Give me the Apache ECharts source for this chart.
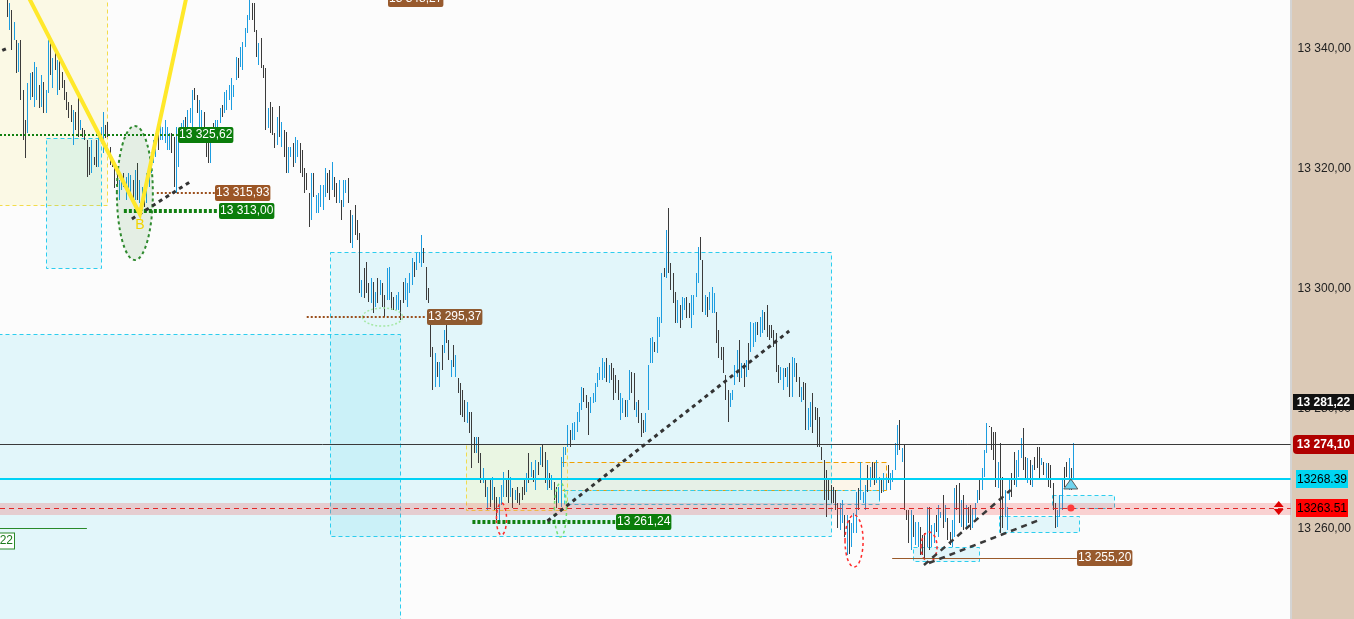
<!DOCTYPE html>
<html><head><meta charset="utf-8">
<script src="https://cdn.jsdelivr.net/npm/echarts@6/dist/echarts.min.js"></script>
<style>html,body{margin:0;padding:0;background:#dbc9b6;}#c{width:1354px;height:619px;}</style>
</head><body><div id="c"></div>
<script>
// ---- bar data (high / low / up=1 down=0), one bar per period ----
const barHigh = [
13348.2,13347.7,13346.5,13344.5,13341.5,13341.0,13341.5,13333.2,13328.2,13334.4,
13336.0,13336.2,13337.9,13337.0,13334.0,13335.7,13334.5,13333.2,13341.5,13341.2,
13338.5,13339.9,13338.2,13338.2,13336.2,13334.9,13332.9,13331.2,13330.7,13329.9,
13329.5,13332.9,13328.2,13326.9,13326.5,13324.9,13323.7,13324.9,13322.0,13324.9,
13325.4,13327.0,13329.5,13327.4,13327.9,13323.7,13322.0,13321.0,13319.9,13318.2,
13318.7,13319.4,13318.7,13319.4,13319.0,13318.2,13319.9,13321.0,13318.2,13317.0,
13317.0,13319.4,13321.0,13322.7,13324.9,13326.0,13327.0,13328.5,13327.0,13328.2,
13327.0,13326.0,13326.0,13325.4,13327.0,13326.5,13327.7,13328.2,13328.7,13329.9,
13330.2,13333.2,13333.5,13332.4,13331.5,13329.9,13329.5,13326.9,13324.9,13324.9,
13327.7,13328.2,13328.2,13330.2,13330.7,13332.9,13333.2,13334.0,13335.2,13334.0,
13338.7,13338.5,13340.4,13341.2,13343.5,13345.7,13348.3,13347.7,13347.7,13343.2,
13341.0,13341.9,13337.4,13336.9,13330.2,13331.2,13330.4,13326.0,13328.7,13330.5,
13327.9,13326.5,13326.2,13323.7,13323.7,13324.4,13325.4,13324.9,13324.4,13323.2,
13320.2,13319.4,13316.0,13319.4,13319.4,13315.7,13316.0,13317.4,13317.4,13320.2,
13319.4,13319.9,13321.2,13318.7,13317.7,13318.2,13314.9,13318.2,13318.2,13318.5,
13313.2,13312.4,13314.0,13311.5,13309.4,13301.5,13303.5,13304.5,13301.0,13301.9,
13301.2,13299.5,13301.9,13301.5,13301.0,13299.0,13303.5,13303.7,13299.5,13298.7,
13299.0,13299.5,13298.2,13301.2,13301.9,13301.0,13302.7,13305.2,13304.5,13306.0,
13306.2,13309.0,13306.9,13303.7,13300.2,13295.4,13290.4,13289.4,13287.9,13287.9,
13290.7,13293.2,13294.4,13291.5,13288.2,13290.7,13289.0,13285.2,13284.4,13283.2,
13281.5,13281.2,13279.5,13279.5,13275.4,13275.4,13275.4,13272.7,13270.2,13268.2,
13267.0,13268.2,13268.7,13267.0,13265.4,13265.4,13267.4,13269.5,13268.2,13269.9,
13268.7,13266.9,13266.5,13267.0,13266.0,13267.0,13268.2,13269.4,13272.7,13271.2,
13269.9,13271.5,13271.2,13273.7,13274.0,13272.9,13271.5,13269.4,13269.0,13267.9,
13267.0,13267.0,13272.0,13273.7,13273.7,13277.4,13276.5,13277.7,13277.9,13279.5,
13281.0,13283.7,13283.5,13282.4,13281.2,13282.0,13282.7,13284.4,13286.0,13287.0,
13288.5,13287.9,13288.5,13287.4,13287.7,13286.9,13285.7,13284.9,13282.7,13281.9,
13281.5,13281.5,13286.5,13286.2,13286.0,13281.2,13281.5,13279.4,13278.2,13279.4,
13287.4,13291.9,13292.0,13291.2,13295.4,13295.4,13302.7,13303.5,13309.9,13313.5,
13304.4,13302.7,13299.5,13298.2,13297.4,13298.7,13298.5,13298.7,13297.7,13299.0,
13299.0,13302.7,13307.0,13308.7,13304.9,13299.0,13298.7,13299.5,13300.4,13299.4,
13296.2,13293.2,13290.4,13290.4,13285.7,13283.2,13282.7,13283.2,13287.4,13289.9,
13291.5,13287.7,13287.7,13288.2,13291.0,13294.5,13294.4,13294.5,13294.5,13295.4,
13296.5,13296.2,13297.4,13294.0,13294.0,13293.2,13292.7,13287.4,13287.0,13286.9,
13286.9,13287.0,13287.7,13288.7,13288.5,13287.7,13285.4,13283.7,13284.5,13284.4,
13280.2,13281.2,13282.7,13280.4,13280.2,13278.7,13273.7,13271.5,13269.9,13268.2,
13267.4,13267.0,13266.5,13264.4,13264.4,13264.9,13262.4,13262.4,13261.5,13261.0,
13262.7,13266.2,13266.9,13271.2,13266.2,13267.4,13270.7,13270.4,13271.2,13271.0,
13271.5,13268.7,13268.5,13269.4,13268.7,13270.7,13269.4,13269.9,13274.4,13277.4,
13278.2,13273.5,13274.0,13263.2,13263.2,13263.2,13262.4,13261.2,13261.2,13260.4,
13259.0,13259.4,13263.7,13263.7,13260.7,13261.0,13262.4,13264.0,13262.9,13265.7,
13264.0,13261.9,13259.5,13261.5,13266.9,13267.4,13267.7,13264.9,13265.7,13264.0,
13263.7,13264.0,13263.5,13264.4,13266.5,13268.2,13270.2,13273.2,13277.7,13277.2,
13277.0,13276.2,13276.2,13271.2,13274.4,13268.7,13266.5,13263.7,13268.2,13269.4,
13272.9,13271.5,13273.2,13275.2,13276.9,13272.0,13271.9,13271.5,13270.7,13272.0,
13273.7,13273.7,13271.9,13271.2,13271.0,13271.0,13270.7,13267.7,13264.4,13263.2,
13265.7,13268.2,13270.4,13271.2,13271.9,13270.2,13274.4
];
const barLow = [
13345.4,13343.2,13339.9,13341.5,13336.0,13336.2,13331.5,13324.9,13321.9,13326.0,
13331.5,13332.0,13330.4,13331.5,13330.2,13330.4,13329.4,13329.4,13332.7,13335.7,
13333.5,13336.5,13332.4,13333.2,13333.5,13331.5,13329.9,13328.5,13327.9,13324.0,
13326.5,13325.4,13326.5,13325.4,13324.9,13318.7,13319.0,13319.4,13320.7,13320.4,
13320.4,13324.4,13322.7,13325.2,13325.4,13320.7,13320.4,13316.9,13317.0,13314.9,
13316.5,13317.0,13314.9,13316.0,13315.4,13314.4,13314.9,13314.9,13314.4,13313.0,
13313.7,13314.4,13317.0,13319.4,13321.0,13322.0,13323.2,13324.9,13324.9,13324.4,
13323.2,13323.2,13322.7,13317.0,13316.0,13320.4,13324.9,13325.7,13326.0,13327.0,
13327.7,13327.0,13331.5,13329.4,13327.0,13326.5,13326.0,13322.0,13321.0,13321.0,
13324.9,13326.0,13327.0,13327.7,13328.7,13329.4,13329.9,13331.5,13329.9,13332.0,
13334.9,13335.2,13337.0,13336.5,13340.4,13342.7,13344.9,13344.9,13342.9,13338.7,
13337.4,13336.9,13335.2,13326.5,13326.9,13326.0,13325.7,13323.5,13324.0,13325.4,
13323.7,13322.0,13319.4,13319.4,13322.0,13320.4,13321.0,13322.0,13319.4,13318.7,
13316.0,13316.5,13310.4,13311.5,13315.4,13312.7,13312.7,13313.7,13313.2,13315.4,
13316.0,13314.9,13316.5,13315.4,13314.4,13314.4,13311.5,13313.7,13316.0,13314.4,
13307.7,13306.9,13309.0,13308.2,13299.4,13298.7,13298.5,13299.4,13297.9,13297.7,
13296.0,13297.0,13297.7,13299.0,13297.0,13295.4,13298.2,13298.2,13296.5,13296.5,
13296.5,13296.5,13294.9,13297.7,13298.2,13297.0,13299.4,13300.7,13302.0,13303.2,
13304.4,13303.7,13304.4,13298.2,13297.7,13288.7,13283.2,13283.7,13285.4,13283.7,
13286.5,13289.4,13291.0,13288.2,13285.4,13287.0,13285.4,13282.7,13279.0,13278.7,
13277.9,13277.7,13276.0,13270.2,13272.7,13272.7,13271.0,13267.7,13267.7,13265.4,
13263.2,13263.7,13264.9,13263.2,13261.5,13261.2,13264.0,13265.4,13265.4,13264.4,
13265.4,13263.5,13264.9,13264.4,13264.0,13264.9,13265.7,13266.2,13267.7,13268.7,
13267.9,13266.5,13269.0,13270.7,13270.4,13267.7,13266.5,13266.9,13266.5,13264.9,
13263.5,13264.4,13263.7,13270.4,13272.4,13273.7,13273.7,13274.9,13274.9,13276.2,
13277.9,13279.9,13281.2,13280.2,13275.7,13279.4,13281.0,13281.2,13283.7,13284.9,
13284.9,13285.2,13284.5,13284.4,13284.9,13281.5,13282.7,13281.5,13278.2,13279.4,
13278.7,13278.7,13281.5,13282.7,13279.9,13278.7,13277.7,13275.4,13276.0,13276.2,
13279.9,13287.7,13287.7,13289.5,13289.4,13292.0,13294.4,13302.0,13301.9,13302.7,
13299.9,13297.7,13294.4,13294.4,13293.5,13294.9,13296.5,13295.2,13295.2,13293.5,
13295.7,13298.7,13301.0,13304.9,13296.2,13295.7,13295.4,13296.5,13296.0,13296.0,
13291.0,13288.5,13288.2,13286.0,13281.5,13277.9,13280.4,13281.5,13284.0,13285.4,
13284.5,13285.2,13283.7,13285.4,13286.5,13289.5,13290.4,13291.2,13292.4,13292.0,
13292.7,13293.2,13292.0,13291.5,13291.9,13290.4,13286.2,13284.4,13284.9,13283.2,
13285.4,13283.7,13282.0,13282.0,13285.4,13284.5,13282.0,13281.2,13281.5,13276.5,
13276.5,13277.0,13276.0,13278.2,13273.7,13273.7,13271.5,13264.9,13262.0,13264.9,
13264.4,13264.4,13263.2,13260.2,13259.9,13261.0,13258.7,13255.6,13255.8,13257.0,
13259.4,13259.4,13263.2,13264.9,13264.4,13263.2,13266.2,13267.0,13268.2,13267.4,
13267.7,13264.9,13266.0,13266.2,13266.5,13267.7,13266.5,13267.9,13269.9,13272.4,
13273.2,13271.2,13263.2,13261.5,13257.7,13256.5,13258.7,13257.4,13257.0,13255.7,
13255.6,13255.2,13257.0,13256.5,13257.0,13257.7,13259.5,13258.7,13261.9,13260.2,
13261.2,13258.2,13257.4,13257.0,13258.7,13263.2,13261.0,13260.4,13259.9,13260.4,
13261.0,13259.9,13260.2,13261.5,13264.4,13264.9,13266.5,13268.7,13272.7,13277.0,
13273.2,13271.5,13267.0,13266.9,13259.4,13260.2,13262.0,13259.9,13264.9,13265.4,
13267.4,13267.0,13268.7,13271.9,13269.9,13268.2,13267.7,13267.4,13267.0,13269.9,
13270.2,13268.2,13270.7,13269.0,13268.2,13267.0,13266.9,13263.2,13260.2,13260.4,
13262.0,13263.2,13267.0,13268.7,13266.5,13266.5,13268.2
];
const barUp = [
0,1,0,1,0,1,0,0,0,1, 1,0,1,1,0,1,0,1,1,0, 1,0,1,0,0,0,0,0,0,1, 0,0,1,0,0,0,0,1,0,0,
1,1,1,0,0,0,0,0,0,1, 1,0,1,1,1,0,1,0,1,1, 0,1,1,1,1,1,0,1,1,1, 1,1,0,0,1,1,1,1,0,1,
1,1,0,0,1,1,0,0,0,1, 0,1,1,1,0,1,1,1,1,1, 1,0,1,1,1,1,1,0,0,0, 1,0,0,0,1,0,0,0,1,0,
1,0,0,1,1,0,1,1,0,0, 0,0,0,1,0,1,1,1,1,1, 0,0,1,0,0,1,0,1,1,0, 0,1,0,0,0,1,0,0,0,1,
0,1,0,1,0,0,1,1,0,0, 1,1,0,0,1,1,1,1,0,1, 1,1,0,0,0,0,0,1,0,1, 0,1,0,0,1,0,1,0,0,0,
0,1,0,0,0,1,0,0,1,0, 1,0,1,0,0,1,1,1,0,0, 1,0,1,0,0,0,0,1,0,1, 0,1,0,1,0,0,1,0,1,0,
0,1,1,1,1,1,0,1,1,1, 1,1,0,0,0,1,1,1,1,1, 1,1,0,1,0,0,0,0,1,1, 0,1,1,0,0,1,0,0,0,1,
1,1,1,0,1,1,1,0,1,0, 0,0,0,1,0,1,1,0,0,1, 1,1,1,0,0,1,0,1,1,1, 0,0,0,0,0,0,1,1,1,1,
0,1,0,1,0,1,1,1,0,1, 1,0,0,0,0,0,0,0,1,1, 0,1,0,1,1,0,0,1,0,0, 1,1,0,0,0,0,0,0,0,0,
0,0,0,0,1,1,0,1,0,1, 1,1,0,1,1,1,0,1,0,0, 1,1,0,1,1,0,1,1,1,1, 0,1,0,0,0,1,0,1,1,0,
0,0,1,0,1,1,0,1,1,0, 1,0,0,1,1,0,0,1,0,1, 0,0,1,1,1,0,1,1,1,0, 0,0,0,1,0,0,1,1,1,0,
0,1,1,1,0,0,1,0,1,0, 0,0,1,0,1,0,0,0,0,1, 1,1,0,0,1,0,1
];
const yTickValues = [13260, 13280, 13300, 13320, 13340];
// price levels drawn on the chart
const levelTop = 13348.27, levelZZ = 13325.62, levelB1 = 13315.93, levelLowB = 13313.00;
const levelMid = 13295.37, levelLow2 = 13261.24, levelLow3 = 13255.20;
const levelClose = 13274.10, levelCyan = 13268.39, levelRed = 13263.51, levelLastHigh = 13281.22;

const UP = '#1c9de0', DOWN = '#3b3b3b';
const FONT = '12px "Liberation Sans", Arial, sans-serif';
function fmt(v){ const s = v.toFixed(2).split('.'); return s[0].replace(/\B(?=(\d{3})+(?!\d))/g, ' ') + ',' + s[1]; }
const CY = 'rgba(0,200,235,0.10)', CYB = '#2ccdee';

function renderBg(params, api){
  const els = [];
  const P = (v,p) => api.coord([v,p]);
  const box = (v1,p1,v2,p2,fill,stroke,dash) => {
    const a = P(v1,p1), b = P(v2,p2);
    const x = Math.round(Math.min(a[0],b[0])) + 0.5, y = Math.round(Math.min(a[1],b[1])) + 0.5;
    const w = Math.round(Math.abs(b[0]-a[0])), h = Math.round(Math.abs(b[1]-a[1]));
    els.push({type:'rect', shape:{x, y, width:w, height:h}, style:{fill, stroke, lineWidth:1, lineDash:dash}});
  };
  box(-10, 13360, 43.78, 13314.0, 'rgba(250,240,150,0.22)', '#f3dc4a', [4,3]);
  box(-10, 13292.5, 171.7, 13230, CY, CYB, [4,3]);
  box(141.1, 13306.17, 359.8, 13258.83, CY, CYB, [4,3]);
  box(17.16, 13325.17, 41.17, 13303.5, CY, CYB, [4,3]);
  box(200.9, 13274.17, 245.0, 13263.17, 'rgba(240,246,212,0.6)', '#f0dc50', [4,3]);
  box(242.4, 13271.17, 384.2, 13266.5, 'rgba(255,205,130,0.15)', '#f0a000', [5,3]);
  box(243.7, 13266.5, 381.2, 13264.17, CY, CYB, [4,3]);
  box(396.0, 13257.0, 424.8, 13254.67, CY, CYB, [4,3]);
  box(433.6, 13262.17, 468.5, 13259.5, CY, CYB, [4,3]);
  box(456.7, 13265.67, 483.8, 13263.5, CY, CYB, [4,3]);
  return {type:'group', children: els};
}

function renderBars(params, api){
  const x = api.value(0);
  const a = api.coord([x, api.value(1)]), b = api.coord([x, api.value(2)]);
  const px = Math.round(a[0]) + 0.5;
  let y1 = Math.round(a[1]), y2 = Math.round(b[1]);
  if (y2 - y1 < 1) y2 = y1 + 1;
  return {type:'line', shape:{x1:px, y1, x2:px, y2}, style:{stroke: api.value(3) ? UP : DOWN, lineWidth:1}};
}

function renderFg(params, api){
  const els = [];
  const P = (v,p) => api.coord([v,p]);
  const seg = (v1,p1,v2,p2,stroke,w,dash) => { const a=P(v1,p1), b=P(v2,p2);
    els.push({type:'line', shape:{x1:a[0],y1:a[1],x2:b[0],y2:b[1]}, style:{stroke, lineWidth:w, lineDash:dash}}); };
  const hline = (v1,v2,p,stroke,w,dash) => { const a=P(v1,p), b=P(v2,p); const y = Math.round(a[1]) + (w % 2 ? 0.5 : 0);
    els.push({type:'line', shape:{x1:a[0],y1:y,x2:b[0],y2:y}, style:{stroke, lineWidth:w, lineDash:dash}}); };
  const ell = (v1,p1,v2,p2,fill,stroke,w,dash) => { const a=P(v1,p1), b=P(v2,p2);
    els.push({type:'ellipse', shape:{cx:(a[0]+b[0])/2, cy:(a[1]+b[1])/2, rx:Math.abs(b[0]-a[0])/2, ry:Math.abs(b[1]-a[1])/2}, style:{fill, stroke, lineWidth:w, lineDash:dash}}); };
  const lab = (v,p,text,bg) => { const a=P(v,p);
    els.push({type:'text', x:Math.round(a[0]), y:Math.round(a[1]), style:{text, fill:'#fff', font:FONT, align:'left', verticalAlign:'middle', backgroundColor:bg, padding:[2,1,1,1], borderRadius:2, lineHeight:13}}); };

  // red zone band
  const r1 = P(-2.92, 13264.33), r2 = P(561, 13262.33);
  els.push({type:'rect', shape:{x:r1[0], y:Math.round(r1[1]), width:r2[0]-r1[0], height:Math.round(r2[1]-r1[1])}, style:{fill:'rgba(240,60,60,0.22)'}});
  hline(-2.92, 561, levelClose, '#3a3a3a', 1);
  hline(-2.92, 561, levelCyan, '#00d2f6', 2);
  hline(-2.92, 561, levelRed, '#e02828', 1, [5,4]);

  // ellipses
  ell(48.15, 13327.17, 63.86, 13304.83, 'rgba(20,120,20,0.10)', '#2f8a2f', 2, [3,3]);
  ell(155.5, 13296.83, 173.0, 13293.83, null, '#a5e8a5', 1.5, [2,2]);
  ell(214.0, 13264.33, 218.4, 13259.0, null, '#ff2a2a', 1.5, [3,3]);
  ell(239.3, 13267.67, 244.6, 13258.67, null, '#74e074', 1.5, [3,3]);
  ell(366.3, 13262.33, 374.2, 13253.67, null, '#ff2a2a', 1.5, [3,3]);
  ell(399.5, 13259.5, 406.5, 13254.5, null, '#ff2a2a', 1.5, [3,3]);

  // level lines
  hline(-2.92, 74.8, levelZZ, '#118011', 2, [2,2]);
  hline(65.6, 90.9, levelB1, '#9a4f1c', 2, [2,2]);
  hline(51.2, 92.67, levelLowB, '#118011', 4, [3,2]);
  hline(94.85, 166.4, levelTop, '#9a4f1c', 2, [2,2]);
  hline(131.1, 183.5, levelMid, '#9a4f1c', 2, [2,2]);
  hline(203.5, 265.9, levelLow2, '#118011', 4, [3,2]);
  hline(386.9, 467.6, levelLow3, '#9a5a2a', 1);
  hline(-2.92, 35.05, 13260.17, '#2a8a2a', 1);

  // trend lines
  seg(-5.1, 13339.2, 0.57, 13340.2, '#333', 3, [4,4]);
  seg(54.7, 13311.67, 80.0, 13317.83, '#333', 3, [4,4]);
  seg(236.3, 13261.33, 341.9, 13293.0, '#333', 3, [4,4]);
  seg(400.8, 13254.0, 438.7, 13266.5, '#3a3a3a', 2.5, [6,5]);
  seg(403.0, 13254.33, 451.8, 13261.6, '#3a3a3a', 2.5, [6,5]);

  // zigzag
  const z1 = P(5.72, 13351.5), z2 = P(58.19, 13312.5), z3 = P(80.14, 13351.5);
  els.push({type:'polyline', shape:{points:[z1, z2, z3]}, style:{stroke:'#ffe82a', lineWidth:4, fill:'none', lineJoin:'miter'}});
  const bp = P(58.19, 13310.6);
  els.push({type:'text', x:bp[0], y:bp[1], style:{text:'B', fill:'#f2d400', font:'14px "Liberation Sans", Arial, sans-serif', align:'center', verticalAlign:'middle'}});

  // markers
  const t1 = P(465.0, 13268.33), t2 = P(461.9, 13266.67), t3 = P(468.0, 13266.67);
  els.push({type:'polygon', shape:{points:[t1, t2, t3]}, style:{fill:'#6fd3ee', stroke:'#5a5a5a', lineWidth:1}});
  const rd = P(465.0, levelRed);
  els.push({type:'circle', shape:{cx:rd[0], cy:rd[1], r:3.5}, style:{fill:'#ff3b3b'}});
  const d0 = P(555.8, levelRed);
  els.push({type:'polygon', shape:{points:[[d0[0], d0[1]-7],[d0[0]-5, d0[1]-1],[d0[0]+5, d0[1]-1]]}, style:{fill:'#e00000'}});
  els.push({type:'polygon', shape:{points:[[d0[0], d0[1]+7],[d0[0]-5, d0[1]+1],[d0[0]+5, d0[1]+1]]}, style:{fill:'#e00000'}});

  // price labels
  lab(166.4, levelTop, fmt(levelTop), '#985a2e');
  lab(74.8, levelZZ, fmt(levelZZ), '#0b7d0b');
  lab(90.9, levelB1, fmt(levelB1), '#9c5626');
  lab(92.67, levelLowB, fmt(levelLowB), '#0b7d0b');
  lab(183.5, levelMid, fmt(levelMid), '#8f5a30');
  lab(266.4, levelLow2, fmt(levelLow2), '#0b7d0b');
  lab(467.6, levelLow3, fmt(levelLow3), '#985a2e');
  const l22 = P(3.19, 13258.0);
  els.push({type:'text', x:Math.round(l22[0]), y:Math.round(l22[1]), style:{text:'22', fill:'#1c7a1c', font:FONT, align:'right', verticalAlign:'middle', backgroundColor:'#fff', borderColor:'#2a8a2a', borderWidth:1, padding:[1,1,1,3], lineHeight:13}});
  return {type:'group', children: els};
}

function renderTags(params, api){
  const els = [];
  const tag = (p, text, bg, fg, x1, x2, h, bold, r) => {
    const y = api.coord([0, p])[1];
    els.push({type:'rect', shape:{x:x1, y:Math.round(y - h/2), width:x2-x1, height:h, r:r||0}, style:{fill:bg}});
    els.push({type:'text', x:(x1+x2)/2, y:Math.round(y)+0.5, style:{text, fill:fg, font:(bold?'bold ':'') + FONT, align:'center', verticalAlign:'middle'}});
  };
  tag(levelLastHigh, fmt(levelLastHigh), '#111111', '#ffffff', 1293, 1354, 16, true);
  tag(levelClose, fmt(levelClose), '#b00000', '#ffffff', 1293, 1354, 19, true, [4,0,0,4]);
  tag(levelCyan, levelCyan.toFixed(2), '#00d6f2', '#000000', 1296, 1348, 18, false);
  tag(levelRed, levelRed.toFixed(2), '#ff0000', '#000000', 1296, 1348, 18, false);
  return {type:'group', children: els};
}

const chart = echarts.init(document.getElementById('c'), null, {renderer:'canvas'});
chart.setOption({
  animation: false,
  backgroundColor: '#dbc9b6',
  grid: {left:0, right:62, top:0, bottom:0, show:true, backgroundColor:'#fcfcfc', borderWidth:0},
  xAxis: {type:'value', min:-2.92, max:561, show:false},
  yAxis: {type:'value', position:'right', min:13245, max:13348.1667,
    axisLine:{show:true, onZero:false, lineStyle:{color:'#d4d4d4', width:2}}, axisTick:{show:false}, splitLine:{show:false},
    axisLabel:{margin:7, color:'#222', fontSize:12, fontFamily:'"Liberation Sans", Arial, sans-serif',
      customValues: yTickValues, formatter: v => fmt(v)}},
  series: [
    {type:'custom', z:1, silent:true, clip:true, renderItem:renderBg, data:[[0, 13300]]},
    {type:'custom', z:2, silent:true, clip:true, renderItem:renderBars, encode:{x:0, y:[1,2]},
      data: barHigh.map((h,i) => [i, h, barLow[i], barUp[i]])},
    {type:'custom', z:3, silent:true, clip:true, renderItem:renderFg, data:[[0, 13300]]},
    {type:'custom', z:5, silent:true, clip:false, renderItem:renderTags, data:[[0, 13300]]}
  ]
});
</script></body></html>
